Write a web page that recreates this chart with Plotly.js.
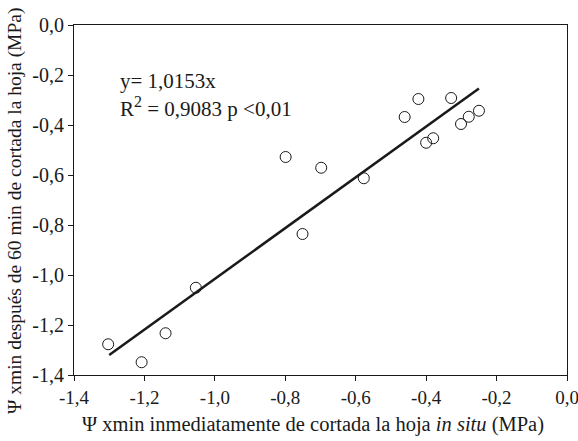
<!DOCTYPE html>
<html>
<head>
<meta charset="utf-8">
<script src="https://cdn.plot.ly/plotly-3.0.1.min.js"></script>
<style>html,body{margin:0;padding:0;background:#fff;}#chart{width:578px;height:441px;}</style>
</head>
<body>
<div id="chart"></div>
<script>
// Measured points
const psiInSitu = [-1.303, -1.208, -1.140, -1.054, -0.751, -0.799, -0.698, -0.577, -0.461, -0.422, -0.400, -0.380, -0.329, -0.301, -0.279, -0.250];
const psiAfter60 = [-1.277, -1.349, -1.233, -1.051, -0.836, -0.528, -0.571, -0.613, -0.368, -0.296, -0.471, -0.453, -0.292, -0.396, -0.367, -0.343];
// Regression line end points (y = 1,0153x)
const fitX = [-1.30, -0.25];
const fitY = [-1.320, -0.254];
// Tick labels
const tickVals = [-1.4, -1.2, -1.0, -0.8, -0.6, -0.4, -0.2, 0.0];
const tickText = ["-1,4", "-1,2", "-1,0", "-0,8", "-0,6", "-0,4", "-0,2", "0,0"];
// Texts
const xTitle = "Ψ xmin inmediatamente de cortada la hoja <i>in situ</i> (MPa)";
const yTitle = "Ψ xmin después de 60 min de cortada la hoja (MPa)";
const eqText = "y= 1,0153x";
const r2Text = "R<sup><span style='font-size:16px'>2</span></sup> = 0,9083 p <0,01";

const serif = "Liberation Serif, Times New Roman, serif";
const ink = "#1a1a1a";

const traces = [
  {
    x: fitX, y: fitY, mode: "lines", type: "scatter",
    line: {color: ink, width: 2.5}, hoverinfo: "skip", showlegend: false
  },
  {
    x: psiInSitu, y: psiAfter60, mode: "markers", type: "scatter",
    marker: {symbol: "circle-open", size: 11, color: ink, line: {width: 1, color: ink}},
    showlegend: false
  }
];

const axisCommon = {
  range: [-1.4, 0.0],
  tickvals: tickVals, ticktext: tickText,
  ticks: "outside", ticklen: 5, tickwidth: 1, tickcolor: ink,
  showline: true, linecolor: ink, linewidth: 1, mirror: true,
  showgrid: false, zeroline: false,
  ticklabeloverflow: "allow"
};

const layout = {
  width: 578, height: 441,
  margin: {l: 74, r: 11, t: 25, b: 66},
  paper_bgcolor: "#fff", plot_bgcolor: "#fff",
  font: {family: serif, color: ink},
  xaxis: Object.assign({}, axisCommon, {tickfont: {family: serif, size: 19, color: ink}}),
  yaxis: Object.assign({}, axisCommon, {tickfont: {family: serif, size: 20, color: ink}}),
  annotations: [
    {
      xref: "paper", yref: "paper", x: 0.089, y: 0.84, xanchor: "left", yanchor: "middle",
      text: eqText, showarrow: false, font: {family: serif, size: 21, color: ink}
    },
    {
      xref: "paper", yref: "paper", x: 0.089, y: 0.765, xanchor: "left", yanchor: "middle",
      text: r2Text, showarrow: false, font: {family: serif, size: 21, color: ink}
    },
    {
      xref: "paper", yref: "paper", x: (313 - 74) / 493, y: -(424 - 375) / 350, xanchor: "center", yanchor: "middle",
      text: xTitle, showarrow: false, font: {family: serif, size: 20.5, color: ink}
    },
    {
      xref: "paper", yref: "paper", x: -(74 - 15) / 493, y: 1 - (211 - 25) / 350, xanchor: "center", yanchor: "middle",
      text: yTitle, textangle: -90, showarrow: false, font: {family: serif, size: 19.5, color: ink}
    }
  ]
};

Plotly.newPlot("chart", traces, layout, {displayModeBar: false, staticPlot: true});
</script>
</body>
</html>
